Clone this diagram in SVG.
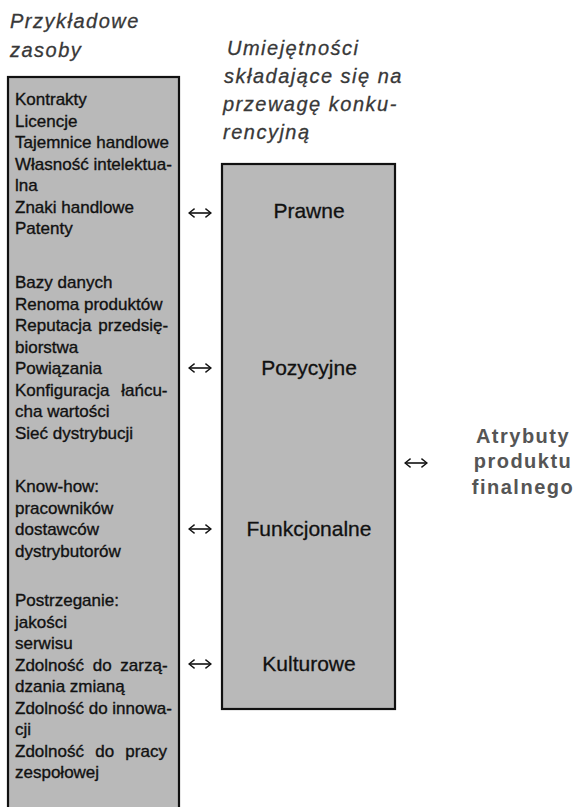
<svg xmlns="http://www.w3.org/2000/svg" width="575" height="807" viewBox="0 0 575 807">
<style>
.bg{fill:#ffffff}
.box{fill:#b9b9b9;stroke:#111;stroke-width:2.2}
.head{font-family:"Liberation Sans",Arial,sans-serif;font-style:italic;font-size:20px;letter-spacing:1.5px;fill:#383838;stroke:#383838;stroke-width:0.3}
.item{font-family:"Liberation Sans",Arial,sans-serif;font-size:17px;fill:#111;stroke:#111;stroke-width:0.35}
.skill{font-family:"Liberation Sans",Arial,sans-serif;font-size:21px;fill:#111;stroke:#111;stroke-width:0.3;text-anchor:middle}
.attr{font-family:"Liberation Sans",Arial,sans-serif;font-weight:bold;font-size:20px;letter-spacing:1.5px;fill:#555;text-anchor:middle}
.conn{fill:none;stroke:#111;stroke-width:1.6;marker-start:url(#chev);marker-end:url(#chev)}
</style>
<defs>
<marker id="chev" viewBox="0 0 10 14" refX="9" refY="7" markerUnits="userSpaceOnUse" markerWidth="7" markerHeight="12" orient="auto-start-reverse">
<path d="M1,0.8 L9,7 L1,13.2" fill="none" stroke="#111" stroke-width="2"/>
</marker>
</defs>
<rect class="bg" x="0" y="0" width="575" height="807"/>

<g id="heading-resources">
<text class="head" x="10" y="28">Przykładowe</text>
<text class="head" x="10" y="57">zasoby</text>
</g>

<g id="heading-skills">
<text class="head" x="227" y="55">Umiejętności</text>
<text class="head" x="224" y="83">składające się na</text>
<text class="head" x="223" y="111">przewagę konku-</text>
<text class="head" x="223" y="139">rencyjną</text>
</g>

<g id="resources">
<rect class="box" x="8" y="77" width="171" height="740"/>
<text class="item" x="15" y="105">Kontrakty</text>
<text class="item" x="15" y="126.5">Licencje</text>
<text class="item" x="15" y="148">Tajemnice handlowe</text>
<text class="item" x="15" y="169.5">Własność intelektua-</text>
<text class="item" x="15" y="191">lna</text>
<text class="item" x="15" y="212.5">Znaki handlowe</text>
<text class="item" x="15" y="234">Patenty</text>

<text class="item" x="15" y="288">Bazy danych</text>
<text class="item" x="15" y="309.5">Renoma produktów</text>
<text class="item" x="15" y="331" word-spacing="2">Reputacja przedsię-</text>
<text class="item" x="15" y="352.5">biorstwa</text>
<text class="item" x="15" y="374">Powiązania</text>
<text class="item" x="15" y="395.5" word-spacing="7">Konfiguracja łańcu-</text>
<text class="item" x="15" y="417">cha wartości</text>
<text class="item" x="15" y="438.5">Sieć dystrybucji</text>

<text class="item" x="15" y="492">Know-how:</text>
<text class="item" x="15" y="513.5">pracowników</text>
<text class="item" x="15" y="535">dostawców</text>
<text class="item" x="15" y="556.5">dystrybutorów</text>

<text class="item" x="15" y="606">Postrzeganie:</text>
<text class="item" x="15" y="627.5">jakości</text>
<text class="item" x="15" y="649">serwisu</text>
<text class="item" x="15" y="670.5" word-spacing="4">Zdolność do zarzą-</text>
<text class="item" x="15" y="692">dzania zmianą</text>
<text class="item" x="15" y="713.5">Zdolność do innowa-</text>
<text class="item" x="15" y="735">cji</text>
<text class="item" x="15" y="756.5" word-spacing="6.5">Zdolność do pracy</text>
<text class="item" x="15" y="778">zespołowej</text>
</g>

<g id="skills">
<rect class="box" x="222" y="164" width="173" height="545"/>
<text class="skill" x="309" y="218">Prawne</text>
<text class="skill" x="309" y="375">Pozycyjne</text>
<text class="skill" x="309" y="536">Funkcjonalne</text>
<text class="skill" x="309" y="671">Kulturowe</text>
</g>

<g id="attributes">
<text class="attr" x="523" y="443">Atrybuty</text>
<text class="attr" x="523" y="468">produktu</text>
<text class="attr" x="523" y="494">finalnego</text>
</g>

<g id="connectors">
<path class="conn" d="M189,213 H211"/>
<path class="conn" d="M189,368 H211"/>
<path class="conn" d="M189,529 H211"/>
<path class="conn" d="M189,664 H211"/>
<path class="conn" d="M405,463 H427"/>
</g>
</svg>
